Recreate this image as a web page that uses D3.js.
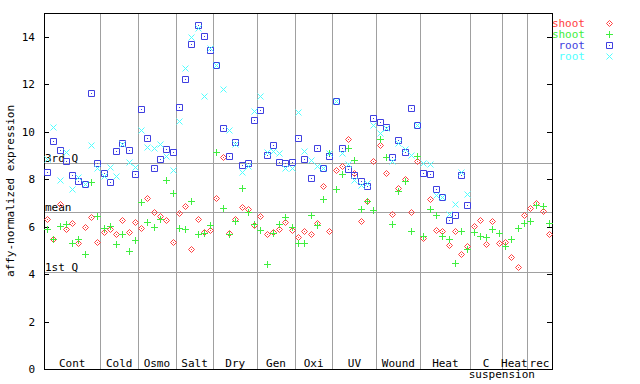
<!DOCTYPE html>
<html>
<head>
<meta charset="utf-8">
<script src="https://cdn.jsdelivr.net/npm/d3@7"></script>
<style>
  body { margin: 0; background: #fff; }
  text { font-family: "DejaVu Sans Mono", monospace; font-size: 11px; }
</style>
</head>
<body>
<svg width="640" height="384"></svg>
<script>
// groups along the x axis (number of samples in each)
const groups = ['Cont', 'Cold', 'Osmo', 'Salt', 'Dry', 'Gen', 'Oxi', 'UV', 'Wound', 'Heat', 'C', 'Heat', 'rec'];
const groupSizes = [9, 6, 6, 6, 7, 6, 6, 7, 7, 8, 5, 4, 4];
const subLabel = 'suspension';

const yTicks = [0, 2, 4, 6, 8, 10, 12, 14];
const refLabels = ['3rd Q', 'mean', '1st Q'];
const refValues = [8.68, 6.61, 4.08];

const seriesNames = ['shoot', 'shoot', 'root', 'root'];
const shootA = [6.33, 5.47, 6.96, 5.89, 6.16, 5.30, 5.98, 6.40, 5.34,
  5.76, 5.89, 5.68, 6.28, 5.78, 6.19,
  5.93, 7.20, 6.62, 6.45, 6.27, 5.34,
  6.57, 6.86, 5.07, 6.31, 5.78, 5.86,
  7.20, 8.93, 5.72, 6.31, 6.82, 6.73, 6.07,
  6.44, 5.68, 5.79, 5.89, 6.19, 5.86,
  5.58, 5.82, 5.68, 6.14, 7.72, 5.82,
  8.38, 8.55, 9.68, 8.25, 6.23, 7.08, 8.76,
  9.43, 8.25, 6.52, 7.62, 8.00, 6.61, 8.76,
  5.51, 7.16, 5.85, 5.81, 5.22, 5.81, 4.84, 5.17,
  6.02, 6.27, 5.26, 6.23, 5.30,
  5.34, 4.71, 4.29, 6.48,
  6.78, 6.99, 6.65, 5.68];
const shootB = [5.89, 5.47, 6.02, 6.10, 5.30, 5.47, 4.84, 7.87, 6.44,
  5.93, 6.03, 5.26, 5.68, 4.98, 5.44,
  7.03, 6.20, 5.98, 6.33, 7.96, 7.41,
  5.93, 5.89, 7.07, 5.68, 5.72, 6.06,
  9.16, 6.78, 5.68, 6.24, 7.62, 6.63, 6.10,
  5.86, 4.42, 5.72, 6.10, 6.40, 5.98,
  5.30, 5.30, 6.48, 6.06, 7.16, 9.10,
  7.58, 8.21, 9.31, 8.80, 6.73, 7.08, 6.69,
  9.69, 8.93, 6.10, 7.49, 7.93, 5.81, 8.97,
  5.60, 6.73, 6.48, 5.60, 5.47, 4.46, 5.81, 5.05,
  5.76, 5.60, 5.55, 5.89, 5.72,
  5.17, 5.47, 5.93, 6.14,
  6.23, 6.90, 6.86, 6.14];
const rootA = [8.29, 9.60, 9.22, 8.76, 8.17, 7.91, 7.79, 11.63, 8.67,
  8.25, 7.87, 9.18, 9.52, 9.22, 8.21,
  10.95, 9.73, 8.46, 8.84, 9.26, 9.14,
  11.04, 12.22, 13.69, 14.49, 14.03, 13.44,
  12.81, 10.15, 8.97, 9.56, 8.59, 8.67, 10.49,
  10.91, 9.01, 9.43, 8.72, 8.67, 8.72,
  9.73, 8.84, 8.04, 9.31, 8.48, 8.96,
  11.29, 9.31, 8.42, 8.17, 7.91, 7.70, 10.57,
  10.42, 10.18, 8.93, 9.64, 9.14, 11.00, 10.28,
  8.25, 8.21, 7.58, 7.24, 6.28, 6.48, 8.17, 6.90,
  null, null, null, null, null,
  null, null, null, null,
  null, null, null, null];
const rootB = [8.84, 10.19, 7.96, 9.14, 7.58, 8.08, 7.79, 9.45, 8.46,
  8.15, 8.51, 8.14, 9.50, 8.73, 8.53,
  10.07, 9.35, 9.31, 9.48, 8.97, 8.38,
  10.45, 12.68, 13.99, 14.37, 11.50, 13.52,
  12.80, 11.80, 10.08, 9.49, 8.30, 8.56, 10.87,
  11.50, 9.14, 9.19, 9.10, 8.46, 8.46,
  10.82, 9.19, 8.80, 8.57, 8.48, 9.12,
  11.29, 9.12, 8.63, 7.96, 7.75, 7.83, 10.28,
  9.94, 10.15, 8.78, 9.52, 9.26, 9.01, 10.28,
  8.67, 8.63, 7.32, 7.24, 6.52, 6.95, 8.29, 7.37,
  null, null, null, null, null,
  null, null, null, null,
  null, null, null, null];

const colors = ['#ff4040', '#40ee40', '#4040e0', '#50ffff'];
const shapes = ['diamond', 'plus', 'box', 'times'];
const allSeries = [shootA, shootB, rootA, rootB];

const svg = d3.select('svg');
const margin = { top: 13, right: 88, bottom: 15, left: 44 };
const width = 640 - margin.left - margin.right;
const height = 384 - margin.top - margin.bottom;

const sampleCount = d3.sum(groupSizes);
const bounds = Array.from(d3.cumsum(groupSizes)); // end index of each group
const starts = [0].concat(bounds.slice(0, -1));

const x = d3.scaleLinear().domain([0, sampleCount]).range([0, width]);
const y = d3.scaleLinear().domain([0, 15]).range([height, 0]);

const g = svg.append('g')
  .attr('transform', `translate(${margin.left},${margin.top})`);

const px = v => Math.round(v) + 0.5;

// group separators
g.selectAll('.sep')
  .data(bounds.slice(0, -1))
  .enter().append('line')
  .attr('class', 'sep')
  .attr('x1', d => px(x(d))).attr('x2', d => px(x(d)))
  .attr('y1', 0).attr('y2', height)
  .attr('stroke', '#a0a0a0');

// quartile / mean lines
g.selectAll('.ref')
  .data(refValues)
  .enter().append('line')
  .attr('class', 'ref')
  .attr('x1', 0).attr('x2', width)
  .attr('y1', d => px(y(d))).attr('y2', d => px(y(d)))
  .attr('stroke', '#a0a0a0');

g.selectAll('.refLabel')
  .data(refValues)
  .enter().append('text')
  .attr('class', 'refLabel')
  .attr('x', 1)
  .attr('y', d => Math.round(y(d)) - 1)
  .text((d, i) => refLabels[i]);

// axes (ticks pointing inward)
const left = g.append('g')
  .call(d3.axisLeft(y).tickValues(yTicks).tickSize(-5).tickPadding(9));
const right = g.append('g')
  .attr('transform', `translate(${width},0)`)
  .call(d3.axisRight(y).tickValues(yTicks).tickSize(-5).tickFormat(''));
[left, right].forEach(a => {
  a.select('.domain').remove();
  a.selectAll('line').attr('stroke', '#000').attr('shape-rendering', 'crispEdges');
  a.selectAll('text').attr('font-family', '"DejaVu Sans Mono", monospace').attr('font-size', 11).attr('fill', '#000');
});

// frame
g.append('rect')
  .attr('x', 0.5).attr('y', 0.5)
  .attr('width', width).attr('height', height)
  .attr('fill', 'none').attr('stroke', '#000');

// group labels
g.selectAll('.grp')
  .data(groups)
  .enter().append('text')
  .attr('class', 'grp')
  .attr('x', (d, i) => x((starts[i] + bounds[i]) / 2))
  .attr('y', height - 2)
  .attr('text-anchor', 'middle')
  .text(d => d);

g.append('text')
  .attr('x', x(bounds[groups.indexOf('C')]))
  .attr('y', height + 9)
  .attr('text-anchor', 'middle')
  .text(subLabel);

// y label
svg.append('text')
  .attr('transform', `translate(14,${margin.top + height / 2}) rotate(-90)`)
  .attr('text-anchor', 'middle')
  .text('affy-normalized expression');

// markers
const markerPath = {
  diamond: 'M0,-3L3,0L0,3L-3,0Z',
  plus: 'M-3.5,0H3.5M0,-3.5V3.5',
  box: 'M-3,-3H3V3H-3Z',
  times: 'M-3,-3L3,3M-3,3L3,-3'
};

function drawMarker(sel, shape, color) {
  sel.append('path')
    .attr('d', markerPath[shape])
    .attr('fill', 'none')
    .attr('stroke', color)
    .attr('stroke-width', 1);
  if (shape === 'box' || shape === 'diamond') {
    sel.append('rect')
      .attr('x', -0.5).attr('y', -0.5)
      .attr('width', 1).attr('height', 1)
      .attr('fill', color);
  }
}

allSeries.forEach((vals, s) => {
  const pts = vals.map((v, i) => ({ i, v })).filter(d => d.v != null);
  g.append('g').selectAll('g')
    .data(pts)
    .enter().append('g')
    .attr('transform', d => `translate(${px(x(d.i + 0.5))},${px(y(d.v))})`)
    .each(function () { drawMarker(d3.select(this), shapes[s], colors[s]); });
});

// legend
const legend = svg.append('g');
seriesNames.forEach((name, s) => {
  const cy = 23 + s * 11;
  legend.append('text')
    .attr('x', 585).attr('y', cy + 4)
    .attr('text-anchor', 'end')
    .attr('fill', colors[s])
    .text(name);
  legend.append('g')
    .attr('transform', `translate(609.5,${cy + 0.5})`)
    .call(sel => drawMarker(sel, shapes[s], colors[s]));
});
</script>
</body>
</html>
